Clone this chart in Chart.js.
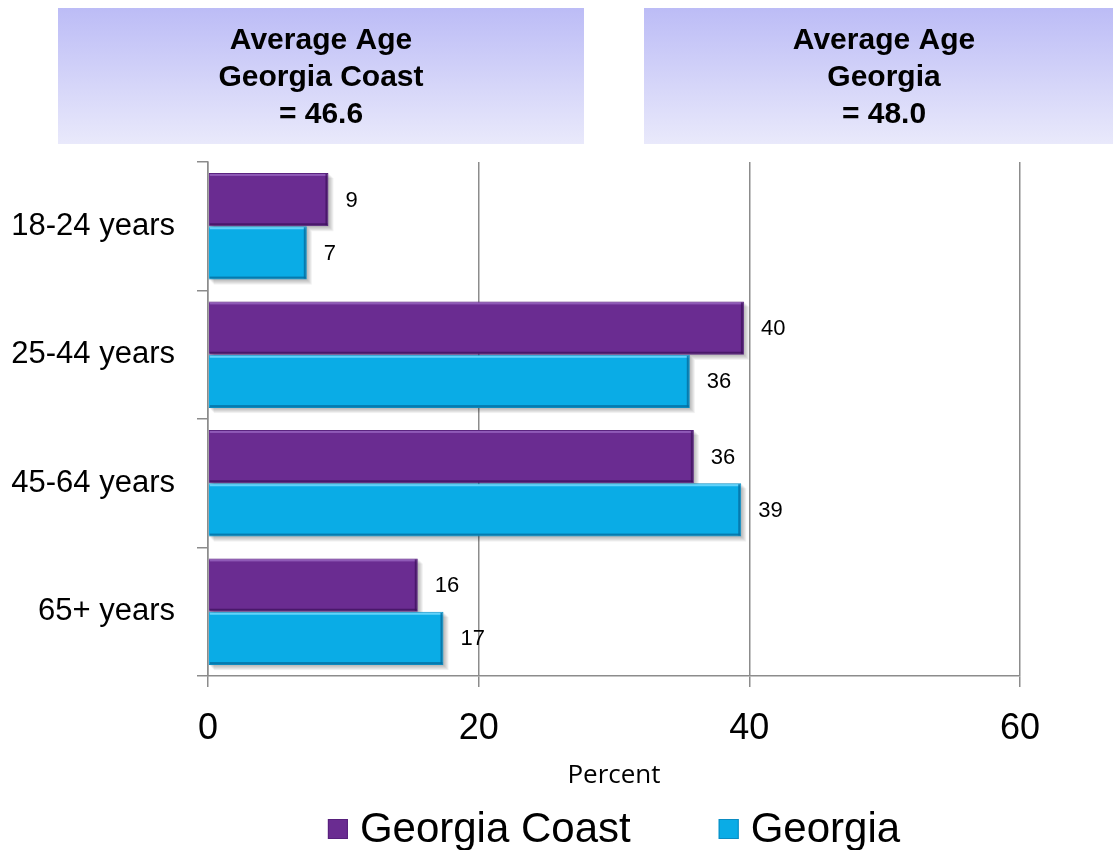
<!DOCTYPE html>
<html><head><meta charset="utf-8">
<script src="https://cdn.jsdelivr.net/npm/chart.js@4"></script>
<style>html,body{margin:0;padding:0;background:#fff}canvas{display:block}</style>
</head><body>
<canvas id="c" width="1113" height="850"></canvas>
<script>
const categories = ['18-24 years', '25-44 years', '45-64 years', '65+ years'];
const seriesNames = ['Georgia Coast', 'Georgia'];
const coastValues = [8.9, 39.6, 35.9, 15.5];
const georgiaValues = [7.3, 35.6, 39.4, 17.4];
const xTickValues = [0, 20, 40, 60];
const axisTitle = 'Percent';
const headerLeft = ['Average Age', 'Georgia Coast', '= 46.6'];
const headerRight = ['Average Age', 'Georgia', '= 48.0'];

const FONT = '"Liberation Sans", Arial, sans-serif';
const GRID = '#8c8c8c';

const headerPlugin = {
  id: 'headers',
  beforeDraw(chart) {
    const ctx = chart.ctx;
    const boxes = [
      { x: 58, w: 526, cx: 321, lines: headerLeft },
      { x: 644, w: 469, cx: 884, lines: headerRight }
    ];
    const top = 8, h = 136;
    ctx.save();
    boxes.forEach(b => {
      const g = ctx.createLinearGradient(0, top, 0, top + h);
      g.addColorStop(0, '#bcbcf6');
      g.addColorStop(1, '#e9e9fb');
      ctx.fillStyle = g;
      ctx.fillRect(b.x, top, b.w, h);
      ctx.fillStyle = '#000';
      ctx.font = 'bold 30px ' + FONT;
      ctx.textAlign = 'center';
      ctx.textBaseline = 'middle';
      b.lines.forEach((t, i) => ctx.fillText(t, b.cx, 41 + i * 37));
    });
    ctx.restore();
  }
};

const barFx = {
  id: 'barFx',
  beforeDatasetsDraw(chart) {
    // soft drop shadow behind each bar element
    const ctx = chart.ctx;
    ctx.save();
    chart.data.datasets.forEach((ds, di) => {
      chart.getDatasetMeta(di).data.forEach(el => {
        const p = el.getProps(['x', 'y', 'base', 'height'], true);
        const top = p.y - p.height / 2, bot = p.y + p.height / 2;
        for (let k = 1; k <= 5; k++) {
          ctx.fillStyle = 'rgba(0,0,0,0.06)';
          ctx.fillRect(p.base + k, top + k, p.x - p.base, bot - top);
        }
      });
    });
    ctx.restore();
  },
  afterDatasetsDraw(chart) {
    const ctx = chart.ctx;
    ctx.save();
    // bevel highlights
    chart.data.datasets.forEach((ds, di) => {
      const hl = di === 0 ? 'rgba(160,110,200,0.7)' : 'rgba(120,220,255,0.8)';
      const sh = di === 0 ? 'rgba(60,15,90,0.7)' : 'rgba(5,110,160,0.8)';
      chart.getDatasetMeta(di).data.forEach(el => {
        const p = el.getProps(['x', 'y', 'base', 'height'], true);
        const top = p.y - p.height / 2, bot = p.y + p.height / 2;
        ctx.fillStyle = hl;
        ctx.fillRect(p.base + 1, top + 1, p.x - p.base - 2, 2);
        ctx.fillStyle = sh;
        ctx.fillRect(p.base + 1, bot - 3, p.x - p.base - 2, 2);
        ctx.fillRect(p.x - 3, top + 1, 2, bot - top - 2);
      });
    });
    ctx.fillStyle = '#000';
    ctx.font = '22px ' + FONT;
    ctx.textAlign = 'left';
    ctx.textBaseline = 'middle';
    chart.data.datasets.forEach((ds, di) => {
      const meta = chart.getDatasetMeta(di);
      meta.data.forEach((el, i) => {
        ctx.fillText(String(Math.round(ds.data[i])), el.x + 17, el.y + 1);
      });
    });
    ctx.restore();
  }
};

const legendPlugin = {
  id: 'customLegend',
  afterDraw(chart) {
    const ctx = chart.ctx;
    ctx.save();
    ctx.font = '42px ' + FONT;
    ctx.textBaseline = 'middle';
    ctx.textAlign = 'left';
    const box = 20, gapBox = 12, gapItem = 88, y = 829;
    const items = chart.data.datasets.map(d => ({ label: d.label, color: d.backgroundColor, border: d.borderColor, w: ctx.measureText(d.label).width }));
    let total = 0;
    items.forEach((it, i) => { total += box + gapBox + it.w + (i < items.length - 1 ? gapItem : 0); });
    let x = 614 - total / 2;
    items.forEach(it => {
      ctx.fillStyle = it.color;
      ctx.fillRect(x, y - 10, box, box);
      ctx.strokeStyle = it.border;
      ctx.lineWidth = 1;
      ctx.strokeRect(x + 0.5, y - 9.5, box - 1, box - 1);
      ctx.fillStyle = '#000';
      ctx.fillText(it.label, x + box + gapBox, y + 1);
      x += box + gapBox + it.w + gapItem;
    });
    ctx.restore();
  }
};

new Chart(document.getElementById('c'), {
  type: 'bar',
  data: {
    labels: categories,
    datasets: [
      { label: seriesNames[0], data: coastValues, backgroundColor: '#6a2c91', borderColor: '#57207c', borderWidth: 1, barPercentage: 1, categoryPercentage: 0.83 },
      { label: seriesNames[1], data: georgiaValues, backgroundColor: '#0aace6', borderColor: '#0b8cc2', borderWidth: 1, barPercentage: 1, categoryPercentage: 0.83 }
    ]
  },
  options: {
    responsive: false,
    animation: false,
    indexAxis: 'y',
    layout: { padding: { top: 162, right: 93, left: 0, bottom: 0 } },
    plugins: { legend: { display: false }, tooltip: { enabled: false } },
    scales: {
      x: {
        min: 0, max: 60,
        afterBuildTicks(scale) { scale.ticks = xTickValues.map(v => ({ value: v })); },
        afterFit(scale) { scale.height = 174; },
        ticks: { color: '#000', font: { family: FONT, size: 36 }, padding: 20 },
        grid: { color: GRID, lineWidth: 1.5, tickLength: 11 },
        border: { color: GRID, width: 1.5 },
        title: { display: true, text: axisTitle, color: '#000', font: { family: '"Open Sans", sans-serif', size: 26 }, padding: { top: 0, bottom: 59 } }
      },
      y: {
        afterFit(scale) { scale.width = 208; },
        ticks: { color: '#000', font: { family: FONT, size: 31 }, padding: 22 },
        grid: { offset: true, drawOnChartArea: false, color: GRID, lineWidth: 1.5, tickLength: 11 },
        border: { color: GRID, width: 1.5 }
      }
    }
  },
  plugins: [headerPlugin, barFx, legendPlugin]
});
</script>
</body></html>
